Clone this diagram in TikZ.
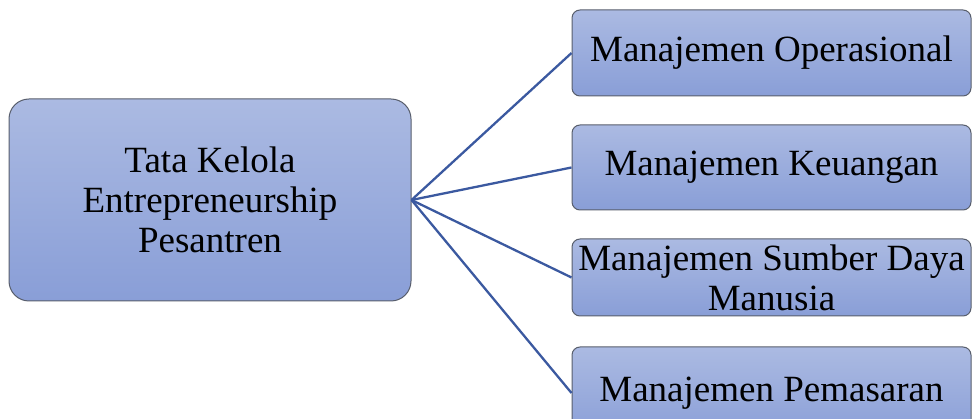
\documentclass[tikz,border=0pt]{standalone}
\usepackage{fontspec}
\setmainfont{Liberation Serif}
\usetikzlibrary{arrows}
\definecolor{boxtop}{RGB}{171,186,226}
\definecolor{boxbot}{RGB}{137,158,215}
\definecolor{boxline}{RGB}{88,94,108}
\definecolor{linkblue}{RGB}{59,89,160}

\begin{document}
\begin{tikzpicture}[-,x=1pt,y=-1pt,semithick,
                    every node/.style={font=\fontsize{37}{40}\selectfont},
                    box/.style={draw=boxline,line width=1pt,top color=boxtop,
                      bottom color=boxbot,rounded corners=8pt,
                      minimum width=399pt,align=center,inner sep=0pt},
                    link/.style={draw=linkblue,line width=2.3pt}]
  \useasboundingbox (0,0) rectangle (972,419);

  \node[box,minimum width=402pt,minimum height=202pt,
        rounded corners=20pt] (A) at (210,200) {Tata Kelola\\Entrepreneurship\\Pesantren};
  \node[box,minimum height=86pt] (B) at (771.5,53)  {Manajemen Operasional};
  \node[box,minimum height=85pt] (C) at (771.5,167.5) {Manajemen Keuangan};
  \node[box,minimum height=77pt] (D) at (771.5,277.5) {Manajemen Sumber Daya\\Manusia};
  \node[box,minimum height=92pt] (E) at (771.5,393) {Manajemen Pemasaran};

  \path[link] (A.east) edge (B.west)
                       edge (C.west)
                       edge (D.west)
                       edge (E.west);
\end{tikzpicture}
\end{document}
